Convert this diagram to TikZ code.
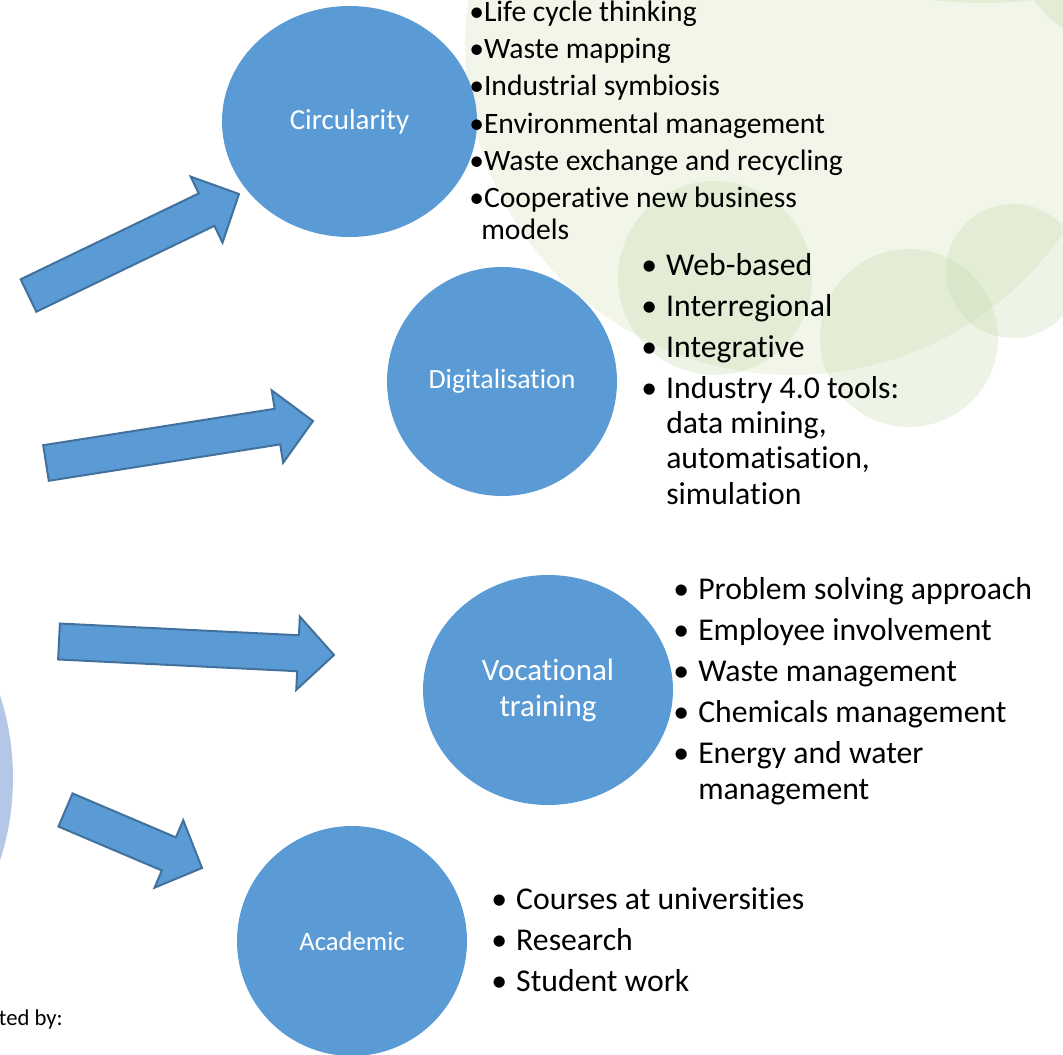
\documentclass[tikz,border=0pt]{standalone}
\usepackage{fontspec}
\setmainfont{Carlito}[Ligatures=NoCommon]
\usetikzlibrary{shapes.geometric,calc}

\definecolor{hubblue}{HTML}{5B9BD5}
\definecolor{arrowline}{HTML}{41719C}
\definecolor{paleblue}{HTML}{B4C7E7}
\definecolor{leafbg}{HTML}{F1F6E9}
\definecolor{leafspot}{HTML}{C5D9AB}

\tikzset{
  hub/.style={ellipse, fill=hubblue, text=white, align=center, inner sep=0pt},
  arrowbody/.style={fill=hubblue, draw=arrowline, line width=1.5pt, line join=miter},
  spot/.style={fill=leafspot, fill opacity=0.3},
  itemlist/.style={anchor=base west, align=left, inner sep=0pt},
}

\newcommand{\shafthw}{13.5pt}
\newcommand{\headhw}{27.5pt}
\newcommand{\headlen}{27pt}
% block arrow from tail #1 to tip #2
\newcommand{\blockarrow}[2]{%
  \draw[arrowbody] let \p1=($(#2)-(#1)$), \n1={atan2(\y1,\x1)} in
    ($(#1)+(\n1+90:\shafthw)$)
    -- ($(#2)+(\n1+180:\headlen)+(\n1+90:\shafthw)$)
    -- ($(#2)+(\n1+180:\headlen)+(\n1+90:\headhw)$)
    -- (#2)
    -- ($(#2)+(\n1+180:\headlen)+(\n1-90:\headhw)$)
    -- ($(#2)+(\n1+180:\headlen)+(\n1-90:\shafthw)$)
    -- ($(#1)+(\n1-90:\shafthw)$) -- cycle;}
\newcommand{\bul}{\makebox[18.75pt][l]{\textbullet}}
\newcommand{\cont}{\hspace*{18.75pt}}

\begin{document}
\begin{tikzpicture}[x=0.75pt,y=-0.75pt]
\useasboundingbox (0,0) rectangle (1063,1055);

% green background
\fill[leafbg] (793,47) circle (328);
\fill[spot] (983,-415) circle (418);
\fill[spot] (1120,-60) circle (105);
\fill[spot] (715,278) circle (97);
\fill[spot] (909,338) circle (89);
\fill[spot] (1013,271) circle (67);

% left edge
\fill[paleblue] (-255,778) circle (268);

% hubs
\node[hub, minimum width=191.25pt, minimum height=173.25pt,
      font=\fontsize{21.75pt}{26pt}\selectfont] (circ) at (349.5,121.5) {Circularity};
\node[hub, minimum width=172.5pt, minimum height=171.75pt,
      font=\fontsize{20.85pt}{25pt}\selectfont] (digi) at (502,381.5) {Digitalisation};
\node[hub, minimum width=187.5pt, minimum height=172.5pt,
      font=\fontsize{23.25pt}{27pt}\selectfont] (voc) at (548,690) {Vocational\\training};
\node[hub, minimum width=172.5pt, minimum height=172.5pt,
      font=\fontsize{20pt}{24pt}\selectfont] (acad) at (352,941) {Academic};

% arrows
\coordinate (t1) at (28.5,295.5);  \coordinate (h1) at (239,194);
\coordinate (t2) at (46,463);      \coordinate (h2) at (313,421);
\coordinate (t3) at (59,641.5);    \coordinate (h3) at (334,655);
\coordinate (t4) at (65.5,810);    \coordinate (h4) at (202,868);
\blockarrow{t1}{h1}
\blockarrow{t2}{h2}
\blockarrow{t3}{h3}
\blockarrow{t4}{h4}

% lists (anchored at the last baseline)
\node[itemlist, font=\fontsize{22.2pt}{24pt}\selectfont] (circlist) at (469,240) {%
  \textbullet Life cycle thinking\\[4pt]
  \textbullet Waste mapping\\[4pt]
  \textbullet Industrial symbiosis\\[4pt]
  \textbullet Environmental management\\[4pt]
  \textbullet Waste exchange and recycling\\[4pt]
  \textbullet Cooperative new business\\
  \hspace*{9pt}models};
\node[itemlist, font=\fontsize{23.8pt}{26.5pt}\selectfont] (digilist) at (641,504) {%
  \bul Web-based\\[4.25pt]
  \bul Interregional\\[4.25pt]
  \bul Integrative\\[4.25pt]
  \bul Industry 4.0 tools:\\
  \cont data mining,\\
  \cont automatisation,\\
  \cont simulation};
\node[itemlist, font=\fontsize{23.8pt}{26.5pt}\selectfont] (voclist) at (673,799) {%
  \bul Problem solving approach\\[4.25pt]
  \bul Employee involvement\\[4.25pt]
  \bul Waste management\\[4.25pt]
  \bul Chemicals management\\[4.25pt]
  \bul Energy and water\\
  \cont management};
\node[itemlist, font=\fontsize{23.8pt}{26.5pt}\selectfont] (acadlist) at (491,991) {%
  \bul Courses at universities\\[4.25pt]
  \bul Research\\[4.25pt]
  \bul Student work};

\node[anchor=base east, inner sep=0pt, font=\fontsize{17pt}{20pt}\selectfont] (credit) at (63,1025) {ted by:};
\end{tikzpicture}
\end{document}
